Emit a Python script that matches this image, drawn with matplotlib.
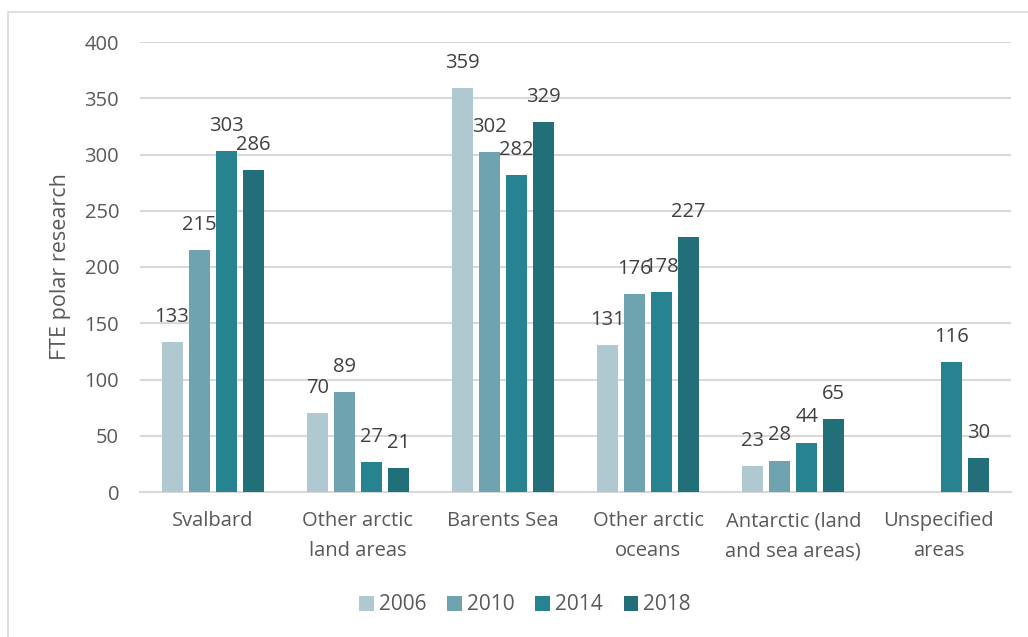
import matplotlib
matplotlib.use('Agg')
import matplotlib.pyplot as plt
import numpy as np
from matplotlib.patches import Rectangle

plt.rcParams['font.family'] = ['Open Sans', 'DejaVu Sans']

categories = ['Svalbard', 'Other arctic\nland areas', 'Barents Sea',
              'Other arctic\noceans', 'Antarctic (land\nand sea areas)',
              'Unspecified\nareas']
years = ['2006', '2010', '2014', '2018']
v2006 = [133, 70, 359, 131, 23, np.nan]
v2010 = [215, 89, 302, 176, 28, np.nan]
v2014 = [303, 27, 282, 178, 44, 116]
v2018 = [286, 21, 329, 227, 65, 30]
series = [v2006, v2010, v2014, v2018]
colors = ['#B0C9D0', '#6FA3AF', '#288390', '#226F7A']

fig = plt.figure(figsize=(10.28, 6.37), dpi=100)
# light frame round the chart (only top/left visible in the original)
fig.patches.append(Rectangle((8/1028, -0.1), 1.2, (637-12)/637 + 0.1,
                             transform=fig.transFigure, fill=False,
                             edgecolor='#D9D9D9', linewidth=1.2))

ax = fig.add_axes([140/1028, (637-492)/637, (1011-140)/1028, 450/637])

x = np.arange(len(categories))
w = 0.145
pitch = 0.186
for i, (vals, c, yr) in enumerate(zip(series, colors, years)):
    xs = x + (i - 1.5) * pitch
    bars = ax.bar(xs, vals, width=w, color=c, label=yr, zorder=3)
    for xx, v in zip(xs, vals):
        if np.isnan(v):
            continue
        ax.annotate(str(int(v)), (xx, v), xytext=(0, 18), textcoords='offset points',
                    ha='center', va='center', fontsize=14.5, color='#404040')

ax.set_xlim(-0.5, len(categories) - 0.5)
ax.set_ylim(0, 400)
ax.set_yticks(range(0, 401, 50))
ax.grid(axis='y', color='#D9D9D9', linewidth=1.5, zorder=0)
for s in ['top', 'right', 'left']:
    ax.spines[s].set_visible(False)
ax.spines['bottom'].set_color('#D9D9D9')
ax.spines['bottom'].set_linewidth(1.5)
ax.set_xticks(x)
ax.set_xticklabels(categories, linespacing=1.65)
ax.tick_params(axis='both', length=0, labelsize=14.5, labelcolor='#595959')
ax.tick_params(axis='x', pad=14)
ax.tick_params(axis='y', pad=15)
ax.set_ylabel('FTE polar research', fontsize=15.5, color='#595959', labelpad=10)

fig.legend(loc='center', bbox_to_anchor=(525/1028, (637-605)/637), ncol=4,
           frameon=False, fontsize=15, handlelength=0.7, handleheight=0.7,
           handletextpad=0.25, columnspacing=1.0, labelcolor='#595959')

fig.savefig('out.png', dpi=100)
